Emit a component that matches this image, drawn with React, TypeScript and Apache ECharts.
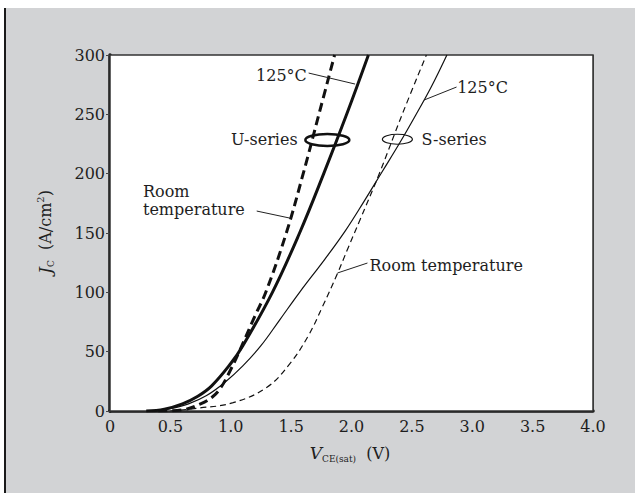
import React, { useEffect, useRef } from "react";
import * as echarts from "echarts";

// Tick values
const xTicks = [0, 0.5, 1.0, 1.5, 2.0, 2.5, 3.0, 3.5, 4.0];
const yTicks = [0, 50, 100, 150, 200, 250, 300];

// Series values: [V_CE(sat) (V), J_C (A/cm2)]
const uRoom = [
  [0.4, 0], [0.6, 1], [0.75, 6], [0.85, 12], [0.92, 20], [1.0, 35], [1.07, 50], [1.2, 80],
  [1.29, 100], [1.46, 150], [1.6, 200], [1.73, 250], [1.86, 300],
];
const u125 = [
  [0.3, 0], [0.45, 1.5], [0.6, 6], [0.72, 12], [0.84, 21], [1.0, 40], [1.1, 55],
  [1.345, 100], [1.57, 150], [1.77, 200], [1.96, 250], [2.14, 300],
];
const sRoom = [
  [0.5, 0], [0.74, 2.5], [1.02, 7], [1.3, 20], [1.49, 40], [1.64, 63], [1.76, 88],
  [1.88, 115], [1.97, 137], [2.07, 161], [2.23, 200], [2.42, 250], [2.62, 300],
];
const s125 = [
  [0.35, 0], [0.5, 2], [0.65, 6], [0.8, 13], [0.95, 24], [1.1, 38], [1.25, 55],
  [1.4, 76], [1.57, 100], [1.78, 128], [1.95, 152], [2.1, 176], [2.25, 201],
  [2.4, 226], [2.53, 249], [2.66, 273], [2.79, 300],
];

// Annotation anchors in data coordinates
const u125Label = { text: "125°C", at: [1.42, 283], lead: [[1.645, 284.8], [2.03, 275.5]] };
const s125Label = { text: "125°C", at: [2.875, 273], lead: [[2.87, 273], [2.6, 262]] };
const uSeriesLabel = { text: "U-series", at: [1.554, 229], ring: [1.8, 228.4] };
const sSeriesLabel = { text: "S-series", at: [2.58, 229], ring: [2.38, 229] };
const uRoomLabel = { lines: ["Room", "temperature"], at: [0.273, 177], lead: [[1.215, 168.5], [1.488, 162.6]] };
const sRoomLabel = { text: "Room temperature", at: [2.149, 123], lead: [[2.132, 124.7], [1.884, 116.3]] };

const FONT = "DejaVu Serif";
const INK = "#1e1e1e";

export default function App() {
  const ref = useRef<HTMLDivElement>(null);
  useEffect(() => {
    document.body.style.margin = "0";
    const chart = echarts.init(ref.current!, undefined, { renderer: "svg" });
    const lineSeries = (name: string, data: number[][], width: number, type: any) => ({
      name, type: "line", data, smooth: 0.4, showSymbol: false, z: 5,
      lineStyle: { color: "#111", width, type },
    });
    chart.setOption({
      animation: false,
      backgroundColor: "#ffffff",
      grid: {
        left: 110, right: 42, top: 55, bottom: 82,
        show: true, backgroundColor: "#ffffff", borderColor: "#333", borderWidth: 1.5, z: 1,
      },
      xAxis: {
        type: "value", min: 0, max: 4, interval: 0.5,
        axisLine: { show: true, onZero: false, lineStyle: { color: "#111", width: 3.5 } },
        axisTick: { show: false },
        splitLine: { show: true, lineStyle: { color: "#555", width: 1 } },
        axisLabel: {
          color: INK, fontFamily: FONT, fontSize: 16, margin: 7,
          formatter: (v: number) => (v === 0 ? "0" : v.toFixed(1)),
        },
      },
      yAxis: {
        type: "value", min: 0, max: 300, interval: 50,
        axisLine: { show: true, onZero: false, lineStyle: { color: "#111", width: 3.5 } },
        axisTick: { show: true, length: 4, lineStyle: { color: "#444", width: 1 } },
        splitLine: { show: true, lineStyle: { color: "#555", width: 1 } },
        axisLabel: { color: INK, fontFamily: FONT, fontSize: 16, margin: 5 },
      },
      series: [
        lineSeries("U room", uRoom, 3, [9, 5]),
        lineSeries("U 125", u125, 3, "solid"),
        lineSeries("S room", sRoom, 1.2, [6, 4]),
        lineSeries("S 125", s125, 1.2, "solid"),
      ],
    });

    const p = (d: number[]) => chart.convertToPixel({ gridIndex: 0 }, d) as number[];
    const richBase = { t: { fontFamily: FONT, fontSize: 16, lineHeight: 18, fill: INK } };
    const txt = (lines: string[], pt: number[], align: string) => ({
      type: "text", x: pt[0], y: pt[1], z: 20,
      style: {
        text: lines.map((l) => `{t|${l}}`).join("\n"),
        fill: INK, fontFamily: FONT, fontSize: 16, align, verticalAlign: "middle", rich: richBase,
      },
    });
    const seg = (a: number[], b: number[], w = 1) => {
      const A = p(a), B = p(b);
      return { type: "line", z: 20, shape: { x1: A[0], y1: A[1], x2: B[0], y2: B[1] },
        style: { stroke: "#222", lineWidth: w } };
    };
    const uR = p(uSeriesLabel.ring), sR = p(sSeriesLabel.ring);
    const graphic: any[] = [
      { type: "rect", z: -10, silent: true, shape: { x: 5, y: 8, width: 630, height: 485 },
        style: { fill: "#d2d3d5" } },
      { type: "line", z: -9, shape: { x1: 5, y1: 8, x2: 5, y2: 493 }, style: { stroke: "#1a1a1a", lineWidth: 2 } },
      { type: "text", x: 350, y: 453, z: 20,
        style: {
          text: "{i|V}{s|CE(sat)}  {n|(V)}", align: "center", verticalAlign: "middle",
          fill: INK, fontFamily: FONT, fontSize: 16,
          rich: {
            i: { fontFamily: FONT, fontSize: 17, fontStyle: "italic", lineHeight: 20, fill: INK },
            s: { fontFamily: FONT, fontSize: 9, lineHeight: 9, verticalAlign: "bottom", fill: INK },
            n: { fontFamily: FONT, fontSize: 16, lineHeight: 20, fill: INK },
          },
        } },
      { type: "text", x: 45, y: 232, rotation: Math.PI / 2, z: 20,
        style: {
          text: "{i|J}{s|C}  {n|(A/cm}{p|2}{n|)}", align: "center", verticalAlign: "middle",
          fill: INK, fontFamily: FONT, fontSize: 16,
          rich: {
            i: { fontFamily: FONT, fontSize: 17, fontStyle: "italic", lineHeight: 20, fill: INK },
            s: { fontFamily: FONT, fontSize: 9, lineHeight: 9, verticalAlign: "bottom", fill: INK },
            p: { fontFamily: FONT, fontSize: 10, lineHeight: 10, verticalAlign: "top", fill: INK },
            n: { fontFamily: FONT, fontSize: 16, lineHeight: 20, fill: INK },
          },
        } },
      txt([u125Label.text], p(u125Label.at), "center"),
      seg(u125Label.lead[0], u125Label.lead[1]),
      txt([s125Label.text], p(s125Label.at), "left"),
      seg(s125Label.lead[0], s125Label.lead[1]),
      txt([uSeriesLabel.text], p(uSeriesLabel.at), "right"),
      { type: "ellipse", z: 20, shape: { cx: uR[0], cy: uR[1], rx: 22, ry: 6 },
        style: { fill: "none", stroke: "#111", lineWidth: 2.5 } },
      txt([sSeriesLabel.text], p(sSeriesLabel.at), "left"),
      { type: "ellipse", z: 20, shape: { cx: sR[0], cy: sR[1], rx: 15, ry: 5 },
        style: { fill: "none", stroke: "#111", lineWidth: 1.2 } },
      txt(uRoomLabel.lines, p(uRoomLabel.at), "left"),
      seg(uRoomLabel.lead[0], uRoomLabel.lead[1]),
      txt([sRoomLabel.text], p(sRoomLabel.at), "left"),
      seg(sRoomLabel.lead[0], sRoomLabel.lead[1]),
    ];
    chart.setOption({ graphic });
    return () => chart.dispose();
  }, []);
  return <div ref={ref} style={{ width: 635, height: 493 }} />;
}
